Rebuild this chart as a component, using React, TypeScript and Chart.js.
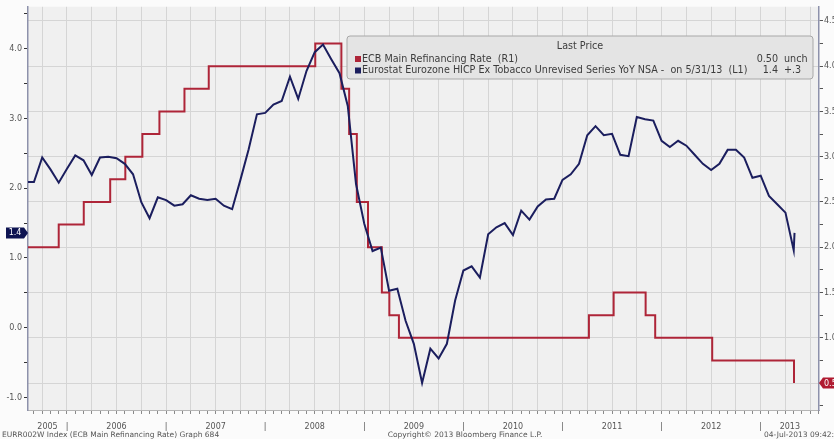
import { useEffect, useRef } from "react";
import { Chart, registerables } from "chart.js";

Chart.register(...registerables);

// ---------------- data ----------------
// Eurostat Eurozone HICP ex tobacco, YoY %, monthly from Jul 2005 to May 2013 (left axis)
const hicpFirstMonth = "2005-07";
const hicpValues = [
  2.09, 2.09, 2.44, 2.27, 2.08, 2.28,
  2.47, 2.4, 2.19, 2.44, 2.45, 2.43, 2.35, 2.2, 1.8, 1.57, 1.87, 1.83,
  1.75, 1.77, 1.9, 1.85, 1.83, 1.85, 1.75, 1.7, 2.12, 2.56, 3.06, 3.08,
  3.2, 3.25, 3.6, 3.28, 3.68, 3.95, 4.06, 3.85, 3.65, 3.18, 2.06, 1.49,
  1.1, 1.15, 0.53, 0.56, 0.1, -0.23, -0.79, -0.3, -0.44, -0.23, 0.39, 0.82,
  0.88, 0.72, 1.34, 1.44, 1.5, 1.33, 1.68, 1.55, 1.74, 1.84, 1.85, 2.12,
  2.2, 2.35, 2.76, 2.89, 2.76, 2.78, 2.48, 2.46, 3.02, 2.99, 2.97, 2.68,
  2.59, 2.68, 2.61, 2.48, 2.35, 2.26, 2.35, 2.55, 2.55, 2.44, 2.15, 2.18,
  1.89, 1.77, 1.65, 1.11, 1.36,
];
const dataEndDate = "2013-05-04";

// ECB main refinancing rate changes (right axis)
const ecbDates = [
  "2005-07-01", "2005-12-01", "2006-03-02", "2006-06-08", "2006-08-03", "2006-10-05",
  "2006-12-07", "2007-03-08", "2007-06-06", "2008-07-03", "2008-10-08", "2008-11-06",
  "2008-12-04", "2009-01-15", "2009-03-05", "2009-04-02", "2009-05-07", "2011-04-07",
  "2011-07-07", "2011-11-03", "2011-12-08", "2012-07-05", "2013-05-02",
];
const ecbRates = [
  2.0, 2.25, 2.5, 2.75, 3.0, 3.25,
  3.5, 3.75, 4.0, 4.25, 3.75, 3.25,
  2.5, 2.0, 1.5, 1.25, 1.0, 1.25,
  1.5, 1.25, 1.0, 0.75, 0.5,
];

const yearLabels = ["2005", "2006", "2007", "2008", "2009", "2010", "2011", "2012", "2013"];
const leftTicks = [-1.0, -0.5, 0.0, 0.5, 1.0, 1.5, 2.0, 2.5, 3.0, 3.5, 4.0, 4.5];
const rightTicks = [0.25, 0.5, 0.75, 1.0, 1.25, 1.5, 1.75, 2.0, 2.25, 2.5, 2.75, 3.0, 3.25, 3.5, 3.75, 4.0, 4.25, 4.5];

const legendHeader = "Last Price";
const legendNames = [
  "ECB Main Refinancing Rate  (R1)",
  "Eurostat Eurozone HICP Ex Tobacco Unrevised Series YoY NSA -  on 5/31/13  (L1)",
];
const legendValues = ["0.50", "1.4"];
const legendChanges = ["unch", "+.3"];
const footerLeft = "EURR002W Index (ECB Main Refinancing Rate) Graph 684";
const footerCenter = "Copyright\u00A9 2013 Bloomberg Finance L.P.";
const footerRight = "04-Jul-2013 09:42:15";

// ---------------- helpers ----------------
const BASE_YEAR = 2005;
function monthNum(date: string): number {
  const [y, m, d] = date.split("-").map(Number);
  const dim = new Date(y, m, 0).getDate();
  return (y - BASE_YEAR) * 12 + (m - 1) + ((d || 1) - 1) / dim;
}

const X_MIN = 7.28;
const X_MAX = 103.06;
const YL_MIN = -1.179;
const YL_MAX = 4.601;
const YR_MIN = 0.2023;
const YR_MAX = 4.656;

const NAVY = "#1b1e5e";
const RED = "#ae2538";
const GRID = "#d5d5d5";
const FONT = "'DejaVu Sans', sans-serif";

function buildXTicks() {
  const ticks: { value: number; label: string }[] = [];
  for (let m = Math.ceil(X_MIN); m <= Math.floor(X_MAX); m++) {
    ticks.push({ value: m, label: m % 12 === 0 ? "|" : "" });
  }
  yearLabels.forEach((yl, i) => {
    const start = Math.max(i * 12, X_MIN);
    const end = Math.min((i + 1) * 12, X_MAX);
    const mid = (start + end) / 2;
    const ex = ticks.find((t) => Math.abs(t.value - mid) < 1e-9);
    if (ex) ex.label = yl;
    else ticks.push({ value: mid, label: yl });
  });
  ticks.sort((a, b) => a.value - b.value);
  return ticks;
}

export default function App() {
  const ref = useRef<HTMLCanvasElement | null>(null);

  useEffect(() => {
    const canvas = ref.current;
    if (!canvas) return;

    const startM = monthNum(hicpFirstMonth + "-01");
    const endM = monthNum(dataEndDate);
    const hicpPoints = hicpValues.map((v, i) => ({ x: Math.min(startM + i + 1, endM), y: v }));
    const ecbPoints = ecbDates.map((d, i) => ({ x: monthNum(d), y: ecbRates[i] }));
    const xTicks = buildXTicks();

    const bgPlugin = {
      id: "bg",
      beforeDraw(chart: any) {
        const { ctx, chartArea } = chart;
        ctx.save();
        ctx.fillStyle = "#fbfbfb";
        ctx.fillRect(0, 0, chart.width, chart.height);
        ctx.fillStyle = "#f0f0f0";
        ctx.fillRect(chartArea.left, chartArea.top, chartArea.right - chartArea.left, chartArea.bottom - chartArea.top);
        ctx.restore();
      },
    };

    const overlayPlugin = {
      id: "overlay",
      afterDraw(chart: any) {
        const { ctx, chartArea } = chart;
        const yL = chart.scales.yL;
        const yR = chart.scales.yR;
        ctx.save();

        // legend box
        const bx = 347, by = 36, bw = 466, bh = 43, r = 3;
        ctx.beginPath();
        ctx.moveTo(bx + r, by);
        ctx.lineTo(bx + bw - r, by);
        ctx.quadraticCurveTo(bx + bw, by, bx + bw, by + r);
        ctx.lineTo(bx + bw, by + bh - r);
        ctx.quadraticCurveTo(bx + bw, by + bh, bx + bw - r, by + bh);
        ctx.lineTo(bx + r, by + bh);
        ctx.quadraticCurveTo(bx, by + bh, bx, by + bh - r);
        ctx.lineTo(bx, by + r);
        ctx.quadraticCurveTo(bx, by, bx + r, by);
        ctx.closePath();
        ctx.fillStyle = "#e4e4e4";
        ctx.fill();
        ctx.strokeStyle = "#a8a8a8";
        ctx.lineWidth = 1;
        ctx.stroke();

        ctx.font = `9.6px ${FONT}`;
        ctx.fillStyle = "#3c3c3c";
        ctx.textBaseline = "middle";
        ctx.textAlign = "center";
        ctx.fillText(legendHeader, bx + bw / 2, 46);
        const colors = [RED, NAVY];
        legendNames.forEach((name, i) => {
          const y = 59 + 11.5 * i;
          ctx.fillStyle = colors[i];
          ctx.fillRect(355, y - 3, 6, 6);
          ctx.fillStyle = "#3c3c3c";
          ctx.textAlign = "left";
          ctx.fillText(name, 362, y);
          ctx.textAlign = "right";
          ctx.fillText(legendValues[i], 778, y);
          ctx.textAlign = "left";
          ctx.fillText(legendChanges[i], 784, y);
        });

        // left value tag (last HICP value)
        const lastH = hicpValues[hicpValues.length - 1];
        const ty = yL.getPixelForValue(lastH);
        const lx = chartArea.left;
        ctx.fillStyle = "#0e1452";
        ctx.beginPath();
        ctx.moveTo(6, ty - 5.5);
        ctx.lineTo(lx - 4, ty - 5.5);
        ctx.lineTo(lx, ty);
        ctx.lineTo(lx - 4, ty + 5.5);
        ctx.lineTo(6, ty + 5.5);
        ctx.closePath();
        ctx.fill();
        ctx.fillStyle = "#ffffff";
        ctx.font = `8px ${FONT}`;
        ctx.textAlign = "center";
        ctx.fillText(lastH.toFixed(1), (6 + lx - 4) / 2, ty + 0.5);

        // right value tag (last ECB rate)
        const lastR = ecbRates[ecbRates.length - 1];
        const ry = yR.getPixelForValue(lastR);
        const rx = chartArea.right;
        ctx.fillStyle = "#b01a30";
        ctx.beginPath();
        ctx.moveTo(rx, ry);
        ctx.lineTo(rx + 4, ry - 5.5);
        ctx.lineTo(chart.width + 2, ry - 5.5);
        ctx.lineTo(chart.width + 2, ry + 5.5);
        ctx.lineTo(rx + 4, ry + 5.5);
        ctx.closePath();
        ctx.fill();
        ctx.fillStyle = "#ffffff";
        ctx.textAlign = "left";
        ctx.fillText(lastR.toFixed(1), rx + 5, ry + 0.5);

        // footer
        ctx.font = `7.5px ${FONT}`;
        ctx.fillStyle = "#555555";
        ctx.textBaseline = "middle";
        ctx.textAlign = "left";
        ctx.fillText(footerLeft, 2, 435);
        ctx.textAlign = "center";
        ctx.fillText(footerCenter, 465, 435);
        ctx.textAlign = "left";
        ctx.fillText(footerRight, 764, 435);
        ctx.restore();
      },
    };

    const chart = new Chart(canvas, {
      type: "line",
      data: {
        datasets: [
          {
            label: legendNames[1],
            data: hicpPoints,
            xAxisID: "x",
            yAxisID: "yL",
            borderColor: NAVY,
            borderWidth: 2,
            pointRadius: 0,
            tension: 0,
          },
          {
            label: legendNames[0],
            data: ecbPoints,
            xAxisID: "x",
            yAxisID: "yR",
            borderColor: RED,
            borderWidth: 2,
            pointRadius: 0,
            stepped: true,
          },
        ],
      },
      options: {
        animation: false,
        responsive: false,
        maintainAspectRatio: false,
        layout: { padding: { top: 6, bottom: 0, left: 0, right: 0 } },
        plugins: { legend: { display: false }, tooltip: { enabled: false }, title: { display: false } },
        scales: {
          x: {
            type: "linear",
            position: "bottom",
            min: X_MIN,
            max: X_MAX,
            afterBuildTicks: (s: any) => {
              s.ticks = xTicks.map((t) => ({ value: t.value }));
            },
            afterFit: (s: any) => {
              s.height = 29;
            },
            grid: {
              color: (c: any) => {
                const v = c.tick ? c.tick.value : NaN;
                return Number.isInteger(v) && v % 3 === 0 ? GRID : "rgba(0,0,0,0)";
              },
              tickColor: (c: any) => {
                const v = c.tick ? c.tick.value : NaN;
                return Number.isInteger(v) ? "#8a8a8a" : "rgba(0,0,0,0)";
              },
              tickLength: 4,
              lineWidth: 1,
            },
            border: { display: true, color: "#b5b5b5", width: 1 },
            ticks: {
              autoSkip: false,
              maxRotation: 0,
              minRotation: 0,
              padding: 8,
              color: "#555555",
              font: { family: FONT, size: 8 },
              callback: (_v: any, i: number) => (xTicks[i] ? xTicks[i].label : ""),
            },
          },
          yL: {
            type: "linear",
            position: "left",
            min: YL_MIN,
            max: YL_MAX,
            afterBuildTicks: (s: any) => {
              s.ticks = leftTicks.map((v) => ({ value: v }));
            },
            afterFit: (s: any) => {
              s.width = 28;
            },
            grid: { drawOnChartArea: false, tickLength: 4, color: "#333", tickColor: "#333" },
            border: { display: true, color: "#8d91ab", width: 1.5 },
            ticks: {
              padding: 2,
              color: "#555555",
              font: { family: FONT, size: 8 },
              callback: (v: any) => (Number.isInteger(Number(v)) ? Number(v).toFixed(1) : ""),
            },
          },
          yR: {
            type: "linear",
            position: "right",
            min: YR_MIN,
            max: YR_MAX,
            afterBuildTicks: (s: any) => {
              s.ticks = rightTicks.map((v) => ({ value: v }));
            },
            afterFit: (s: any) => {
              s.width = 15;
            },
            grid: {
              drawOnChartArea: true,
              tickLength: 4,
              color: (c: any) => {
                const v = c.tick ? c.tick.value : NaN;
                return Math.abs(v * 2 - Math.round(v * 2)) < 1e-9 ? GRID : "rgba(0,0,0,0)";
              },
              tickColor: "#555",
            },
            border: { display: true, color: "#8d91ab", width: 1.5 },
            ticks: {
              padding: 1,
              color: "#555555",
              font: { family: FONT, size: 8 },
              callback: (v: any) => {
                const n = Number(v);
                return Math.abs(n * 2 - Math.round(n * 2)) < 1e-9 ? n.toFixed(1) : "";
              },
            },
          },
        },
      },
      plugins: [bgPlugin, overlayPlugin],
    } as any);

    return () => chart.destroy();
  }, []);

  return (
    <div style={{ position: "absolute", left: 0, top: 0, width: 834, height: 439 }}>
      <canvas ref={ref} width={834} height={439} style={{ display: "block", width: 834, height: 439 }} />
    </div>
  );
}
